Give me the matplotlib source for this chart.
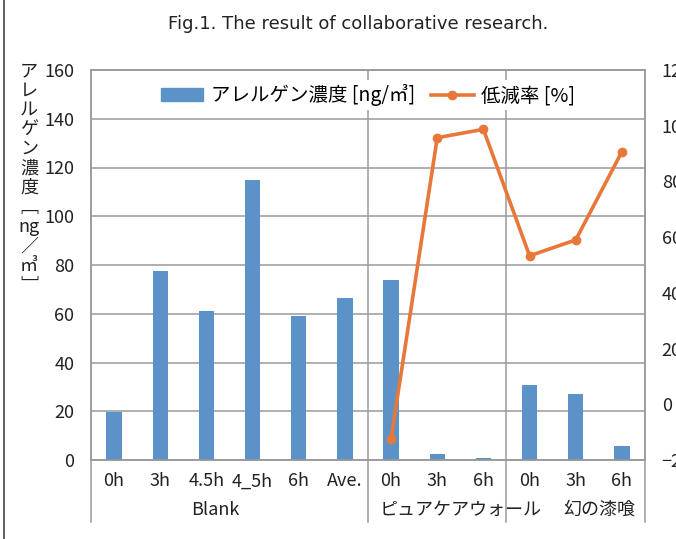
import numpy as np
import matplotlib
matplotlib.use("Agg")
import matplotlib.pyplot as plt
from matplotlib.lines import Line2D
from matplotlib.patches import Patch
import matplotlib.transforms as mtransforms

plt.rcParams['font.family'] = ['Liberation Sans Narrow', 'Noto Sans CJK JP', 'DejaVu Sans']

# data
times = ["0h", "3h", "4.5h", "4_5h", "6h", "Ave.", "0h", "3h", "6h", "0h", "3h", "6h"]
groups = ["Blank", "ピュアケアウォール", "幻の漆喰"]
group_size = [6, 3, 3]
allergen = [19.5, 77.5, 61.0, 115.0, 59.0, 66.5, 73.9, 2.4, 0.8, 30.9, 27.0, 5.9]
reduction_idx = [6, 7, 8, 9, 10, 11]
reduction = [-12.3, 95.7, 98.7, 53.3, 59.0, 90.7]

bar_color = "#5B93C9"
line_color = "#E8773A"
grid_color = "#9A9A9A"

fig = plt.figure(figsize=(6.76, 5.39), dpi=100)
ax = fig.add_axes([91/676, 79/539, 554/676, 390/539])
ax2 = ax.twinx()

x = np.arange(len(times))
ax.bar(x, allergen, width=0.33, color=bar_color, zorder=3)
ax2.plot(reduction_idx, reduction, color=line_color, lw=2.6, marker="o", ms=6, zorder=4)

ax.set_xlim(-0.5, len(times) - 0.5)
ax.set_ylim(0, 160)
ax.set_yticks(np.arange(0, 161, 20))
ax2.set_ylim(-20, 120)
ax2.set_yticks(np.arange(-20, 121, 20))
ax.yaxis.grid(True, color=grid_color, lw=1.1, zorder=0)
ax.set_axisbelow(True)

for a in (ax, ax2):
    for s in a.spines.values():
        s.set_color(grid_color)
        s.set_linewidth(1.1)
    a.tick_params(axis="y", length=0, labelsize=13, colors="#222222")
ax.tick_params(axis="y", pad=12)
ax2.tick_params(axis="y", pad=12)

ax.set_xticks(x)
ax.set_xticklabels(times, fontsize=13, color="#222222")
ax.tick_params(axis="x", length=0, pad=9)

# group separators and labels
trans = mtransforms.blended_transform_factory(ax.transData, ax.transAxes)
low = -62/390
edges = np.cumsum([0] + group_size) - 0.5
for e in edges:
    top = 1 if 0 < e < len(times) - 1 else 0
    ax.add_line(Line2D([e, e], [low, top], transform=trans, color=grid_color,
                       lw=1.1, clip_on=False, zorder=1))
label_x = [2.2, 7.5, 10.5]
for gx, g in zip(label_x, groups):
    ax.text(gx, -50/390, g, transform=trans, ha="center", va="center",
            fontsize=13, color="#222222")

# legend
handles = [Patch(color=bar_color),
           Line2D([], [], color=line_color, lw=2.6, marker="o", ms=6)]
leg = ax.legend(handles, ["アレルゲン濃度 [ng/㎥]", "低減率 [%]"], loc="center",
                bbox_to_anchor=(0.5, 0.935), ncol=2, fontsize=14, frameon=True,
                handlelength=2.2, handleheight=0.7, columnspacing=0.8,
                handletextpad=0.4, borderpad=0.2)
leg.get_frame().set_edgecolor("none")
leg.get_frame().set_facecolor("white")
leg.get_frame().set_alpha(1)
leg.set_zorder(10)

# vertical y label
ylab = ["ア", "レ", "ル", "ゲ", "ン", "濃", "度", "﹇", "ng", "／", "㎥", "﹈"]
for i, c in enumerate(ylab):
    fig.text(29/676, 1 - (71 + i * 19.5)/539, c, ha="center", va="center",
             fontsize=13, color="#222222")

fig.text(358/676, 1 - 24/539, "Fig.1. The result of collaborative research.",
         ha="center", va="center", fontsize=13, color="#222222",
         family=["DejaVu Sans"])

fig.add_artist(Line2D([4/676, 4/676], [0, 1], color="#444444", lw=1.2))

fig.savefig("out.png", dpi=100)
